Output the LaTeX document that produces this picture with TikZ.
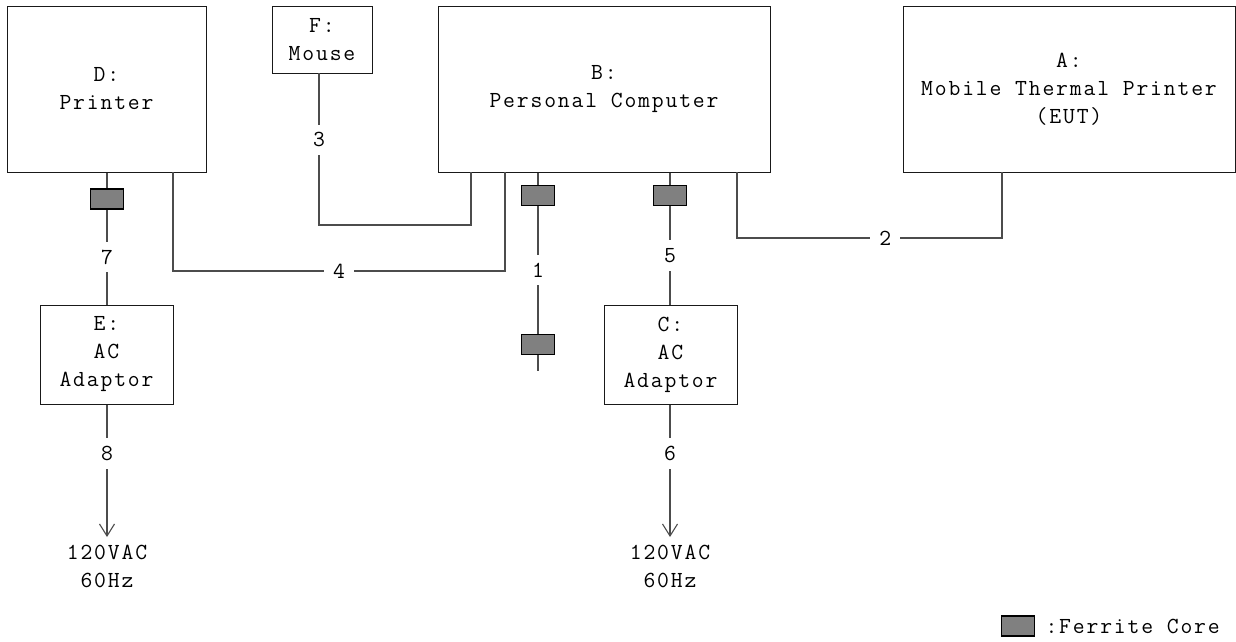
\documentclass[tikz,border=0pt]{standalone}
\usepackage{fontspec}
\usetikzlibrary{arrows.meta}
\newfontfamily\diagfont{Latin Modern Mono}[LetterSpace=8]
\begin{document}
\begin{tikzpicture}[x=1pt,y=-1pt,
  font=\diagfont\fontsize{23}{28}\selectfont,
  box/.style={draw=black!90, line width=1pt, align=center, inner sep=0pt},
  ferrite/.style={draw=black, line width=1.6pt, fill=black!50, minimum width=33pt, minimum height=20pt, inner sep=0pt},
  wire/.style={line width=1.1pt, draw=black!70},
  lbl/.style={fill=white, inner xsep=9pt, inner ysep=8pt},
  pwr/.style={align=center, inner sep=0pt}]
\useasboundingbox (0,0) rectangle (1236,641);

% equipment boxes
\node[box, minimum width=199pt, minimum height=166pt] (D) at (106.5,89) {D:\\Printer};
\node[box, minimum width=100pt, minimum height=67pt] (F) at (322,39.5) {F:\\Mouse};
\node[box, minimum width=332pt, minimum height=166pt] (B) at (604,89) {B:\\Personal Computer};
\node[box, minimum width=332pt, minimum height=166pt] (A) at (1069,89) {A:\\Mobile Thermal Printer\\(EUT)};
\node[box, minimum width=133pt, minimum height=99pt] (E) at (106.5,354.5) {E:\\AC\\Adaptor};
\node[box, minimum width=133pt, minimum height=99pt] (C) at (670.5,354.5) {C:\\AC\\Adaptor};

% ferrite cores
\node[ferrite] (F7) at (107,199) {};
\node[ferrite] (F1t) at (538,195.5) {};
\node[ferrite] (F5) at (670,195.5) {};
\node[ferrite] (F1b) at (538,344.5) {};

% power labels
\node[pwr] (P8) at (107,566) {120VAC\\60Hz};
\node[pwr] (P6) at (670,566) {120VAC\\60Hz};

% ports
\coordinate (f3) at (319,73);
\coordinate (j3) at (319,225);
\coordinate (b3) at (471,172);
\coordinate (d4) at (173,172);
\coordinate (j4) at (173,271);
\coordinate (k4) at (505,271);
\coordinate (b4) at (505,172);
\coordinate (b2) at (737,172);
\coordinate (j2) at (737,238);
\coordinate (k2) at (1002,238);
\coordinate (a2) at (1002,172);
\coordinate (e1) at (538,371);
\coordinate (a8) at (107,537);
\coordinate (a6) at (670,537);

% cable 7
\draw[wire] (D.south -| F7) -- (F7.north);
\draw[wire] (F7.south) -- node[lbl] (L7) {7} (E.north -| F7);
% cable 8
\draw[wire, -{Straight Barb[length=12pt,width=15pt,line width=1.1pt]}] (E.south -| F7) -- node[lbl, pos=0.37] (L8) {8} (a8);
% cable 3
\draw[wire] (f3) -- node[lbl, pos=0.44] (L3) {3} (j3) -| (b3);
% cable 4
\draw[wire] (d4) -- (j4) -- node[lbl] (L4) {4} (k4) -- (b4);
% cable 1
\draw[wire] (B.south -| F1t) -- (F1t.north);
\draw[wire] (F1t.south) -- node[lbl] (L1) {1} (F1b.north);
\draw[wire] (F1b.south) -- (e1);
% cable 5
\draw[wire] (B.south -| F5) -- (F5.north);
\draw[wire] (F5.south) -- node[lbl] (L5) {5} (C.north -| F5);
% cable 6
\draw[wire, -{Straight Barb[length=12pt,width=15pt,line width=1.1pt]}] (C.south -| F5) -- node[lbl, pos=0.37] (L6) {6} (a6);
% cable 2
\draw[wire] (b2) -- (j2) -- node[lbl, pos=0.56] (L2) {2} (k2) -- (a2);

% legend
\node[ferrite] (LG) at (1018,626) {};
\node[anchor=west, inner sep=0pt] (LGT) at ([xshift=10pt]LG.east) {:Ferrite Core};
\end{tikzpicture}
\end{document}
